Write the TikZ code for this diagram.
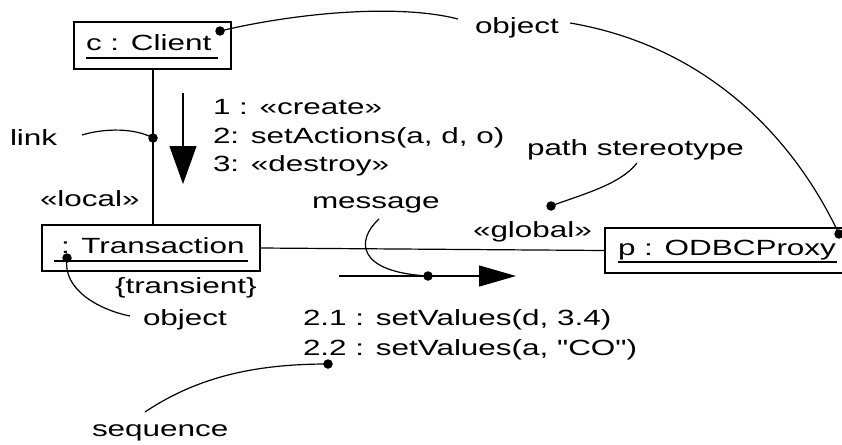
\documentclass[tikz,border=0pt]{standalone}
\usepackage{fontspec}
\setmainfont{Liberation Sans}[FakeStretch=1.43,Ligatures=TeXOff]
\usetikzlibrary{arrows.meta}
\begin{document}
\begin{tikzpicture}[x=1pt,y=-1pt,
  every node/.style={inner sep=0pt,outer sep=0pt,font=\fontsize{22}{26}\selectfont},
  txt/.style={anchor=base west},
  objbox/.style={draw,line width=1.5pt,rectangle},
  ln/.style={line width=1.2pt},
  ul/.style={line width=1.3pt},
  dotc/.style={fill=black,circle,minimum size=9.5pt},
  bigarrow/.style={line width=1.2pt,-{Triangle[length=38pt,width=27pt]}},
  msgarrow/.style={line width=1.2pt,-{Triangle[length=37pt,width=21pt]}}
]
\useasboundingbox (0,0) rectangle (842,444);
\clip (0,0) rectangle (842,444);
\fill[white] (0,0) rectangle (842,444);

% object boxes
\node[objbox,minimum width=157pt,minimum height=47pt] (client) at (152.5,45.5) {};
\node[objbox,minimum width=218pt,minimum height=46pt] (trans) at (151,248) {};
\node[objbox,minimum width=260pt,minimum height=45pt] (proxy) at (735,250.5) {};

% box texts
\node[txt] (ctext) at (86,50) {c : Client};
\draw[ul] (86,58) coordinate (cu1) -- (218,58) coordinate (cu2);
\node[txt] (ttext) at (61,253) {: Transaction};
\draw[ul] (54,261) coordinate (tu1) -- (248,261) coordinate (tu2);
\node[txt] (ptext) at (618,255) {p : ODBCProxy};
\draw[ul] (618,262) coordinate (pu1) -- (837,262) coordinate (pu2);

% links
\draw[ln] (client.south -| 153,0) -- (trans.north -| 153,0);
\draw[ln] (trans.east) -- (proxy.west);

% labels
\node[txt] (m1) at (213,114) {1 : «create»};
\node[txt] (m2) at (213,143) {2: setActions(a, d, o)};
\node[txt] (m3) at (213,171) {3: «destroy»};
\node[txt] (link) at (10,145) {link};
\node[txt] (local) at (40,206) {«local»};
\node[txt] (objtop) at (475,34) {object};
\node[txt] (pathst) at (527,155) {path stereotype};
\node[txt] (message) at (312,208) {message};
\node[txt] (global) at (473,237) {«global»};
\node[txt] (transient) at (115,293) {\{transient\}};
\node[txt] (objbot) at (143,325) {object};
\node[txt] (v1) at (303,325) {2.1 : setValues(d, 3.4)};
\node[txt] (v2) at (303,355) {2.2 : setValues(a, "CO")};
\node[txt] (seq) at (92,436) {sequence};

% message arrows
\coordinate (a1s) at (183,93);
\coordinate (a1e) at (183,184);
\draw[bigarrow] (a1s) -- (a1e);
\coordinate (a2s) at (339,276);
\coordinate (a2e) at (516,276);
\draw[msgarrow] (a2s) -- (a2e);

% dots
\node[dotc] (dclient) at (220,31) {};
\node[dotc] (dlink) at (153,138) {};
\node[dotc] (dtrans) at (67,258) {};
\node[dotc] (dproxy) at (839,234) {};
\node[dotc] (dpath) at (551,206) {};
\node[dotc] (dmsg) at (428,276) {};
\node[dotc] (dseq) at (328,364) {};

% note curves
\coordinate (objtopL) at (458,19);
\coordinate (objtopR) at (570,23);
\draw[ln] (dclient.center) .. controls (300,12) and (400,4) .. (objtopL);
\draw[ln] (objtopR) .. controls (700,45) and (790,130) .. (dproxy.center);
\coordinate (linkR) at (82,135);
\draw[ln] (linkR) .. controls (105,128) and (135,128) .. (dlink.center);
\coordinate (pathB) at (637,163);
\draw[ln] (pathB) .. controls (620,185) and (580,195) .. (dpath.center);
\coordinate (msgB) at (379,219);
\draw[ln] (msgB) .. controls (356,240) and (356,272) .. (dmsg.center);
\coordinate (objbotL) at (130,316);
\draw[ln] (dtrans.center) .. controls (62,290) and (100,310) .. (objbotL);
\coordinate (seqT) at (145,412);
\draw[ln] (seqT) .. controls (200,375) and (260,364) .. (dseq.center);
\end{tikzpicture}
\end{document}
